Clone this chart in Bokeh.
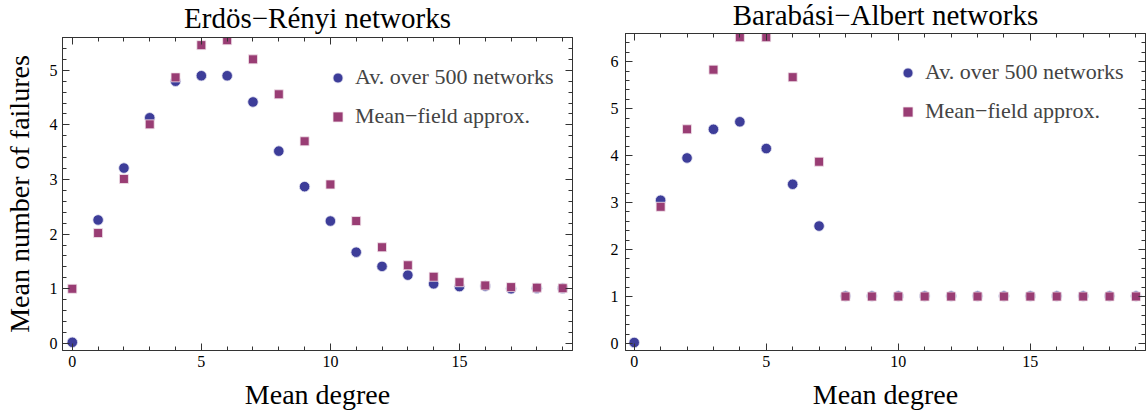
from bokeh.plotting import figure
from bokeh.layouts import row
from bokeh.models import (Range1d, SingleIntervalTicker, LinearAxis, CustomJSTickFormatter,
                          Legend, LegendItem)
from bokeh.embed import file_html
from bokeh.resources import INLINE

# ---------------- data ----------------
degree = list(range(20))
er_sim = [0.02, 2.26, 3.21, 4.13, 4.80, 4.90, 4.90, 4.42, 3.52, 2.87,
          2.24, 1.67, 1.41, 1.25, 1.09, 1.04, 1.05, 1.00, 1.01, 1.01]
er_mf = [1.00, 2.02, 3.01, 4.01, 4.87, 5.46, 5.55, 5.20, 4.56, 3.70,
         2.91, 2.24, 1.76, 1.43, 1.22, 1.12, 1.06, 1.03, 1.02, 1.01]

ba_sim = [0.02, 3.05, 3.95, 4.56, 4.72, 4.15, 3.39, 2.50, 1.01, 1.01,
          1.01, 1.01, 1.01, 1.01, 1.01, 1.01, 1.01, 1.01, 1.01, 1.01]
ba_mf_degree = list(range(1, 20))
ba_mf = [2.91, 4.56, 5.83, 6.52, 6.52, 5.67, 3.87, 1.00, 1.00,
         1.00, 1.00, 1.00, 1.00, 1.00, 1.00, 1.00, 1.00, 1.00, 1.00]

titles = ["Erdös\u2212Rényi networks", "Barabási\u2212Albert networks"]
legend_labels = ["Av. over 500 networks", "Mean\u2212field approx."]
x_label = "Mean degree"
y_label = "Mean number of failures"

BLUE = "#3d3d99"
PURPLE = "#993d74"
FONT = "Liberation Serif"
FRAME = "#333333"


def style_axis(ax, labels=True):
    ax.axis_line_color = FRAME
    ax.major_tick_line_color = FRAME
    ax.minor_tick_line_color = FRAME
    ax.major_tick_in = 7
    ax.major_tick_out = 0
    ax.minor_tick_in = 4
    ax.minor_tick_out = 0
    ax.major_label_text_font = FONT
    ax.major_label_text_font_size = "16px"
    ax.major_label_text_color = "black"
    ax.axis_label_text_font = FONT
    ax.axis_label_text_font_style = "normal"
    ax.axis_label_text_font_size = "28px"
    ax.axis_label_text_color = "black"
    if not labels:
        ax.formatter = CustomJSTickFormatter(code="return ''")
        ax.major_label_standoff = 0
        ax.major_label_text_font_size = "0px"


def make_fig(title, xr, yr, w, h, bl, br, bt, bb, xs, ys, xs2, ys2,
             ylab, ystand, leg_loc, tstand, shift):
    p = figure(width=w, height=h, output_backend="svg",
               toolbar_location=None, title=title,
               x_range=Range1d(*xr), y_range=Range1d(*yr),
               min_border_left=bl, min_border_right=br, min_border_top=bt,
               min_border_bottom=bb, margin=(-shift, 0, 0, 0))
    p.title.text_font = FONT
    p.title.text_font_size = "29px"
    p.title.text_font_style = "normal"
    p.title.text_color = "black"
    p.title.align = "center"
    p.title.standoff = tstand
    p.title.offset = 0
    p.xgrid.visible = False
    p.ygrid.visible = False
    p.outline_line_color = FRAME
    p.background_fill_color = "white"
    p.border_fill_color = "white"

    p.xaxis.ticker = SingleIntervalTicker(interval=5, num_minor_ticks=5)
    p.yaxis.ticker = SingleIntervalTicker(interval=1, num_minor_ticks=5)
    style_axis(p.xaxis[0])
    style_axis(p.yaxis[0])
    p.xaxis.axis_label = x_label
    p.xaxis.major_label_standoff = 5
    p.xaxis.axis_label_standoff = 9
    p.yaxis.major_label_standoff = ystand
    if ylab:
        p.yaxis.axis_label = ylab
        p.yaxis.axis_label_standoff = 12

    top = LinearAxis(ticker=SingleIntervalTicker(interval=5, num_minor_ticks=5))
    right = LinearAxis(ticker=SingleIntervalTicker(interval=1, num_minor_ticks=5))
    style_axis(top, labels=False)
    style_axis(right, labels=False)
    p.add_layout(top, "above")
    p.add_layout(right, "right")

    r1 = p.scatter(xs, ys, marker="circle", size=10.5, fill_color=BLUE,
                   line_color="#e6e6f2", line_width=0.8)
    r2 = p.scatter(xs2, ys2, marker="square", size=9, fill_color=PURPLE,
                   line_color="#f2e6ec", line_width=0.8)

    legend = Legend(items=[LegendItem(label=legend_labels[0], renderers=[r1]),
                           LegendItem(label=legend_labels[1], renderers=[r2])],
                    location=leg_loc, border_line_color=None, background_fill_alpha=0,
                    label_text_font=FONT, label_text_font_size="22px",
                    glyph_width=25, glyph_height=25, label_standoff=5,
                    spacing=13, padding=0, margin=0)
    p.add_layout(legend)
    return p


p1 = make_fig(titles[0], (-0.38, 19.38), (-0.13, 5.6), 580, 422, 61, 8, 43, 66,
              degree, er_sim, degree, er_mf, y_label, 5, (263, 221), 7, 6)
p2 = make_fig(titles[1], (-0.33, 19.36), (-0.15, 6.6), 566, 426, 45, 1, 41, 66,
              degree, ba_sim, ba_mf_degree, ba_mf, None, 7, (270, 226), 5, 10)

layout = row(p1, p2)
open("out.html", "w").write(file_html(layout, INLINE))
